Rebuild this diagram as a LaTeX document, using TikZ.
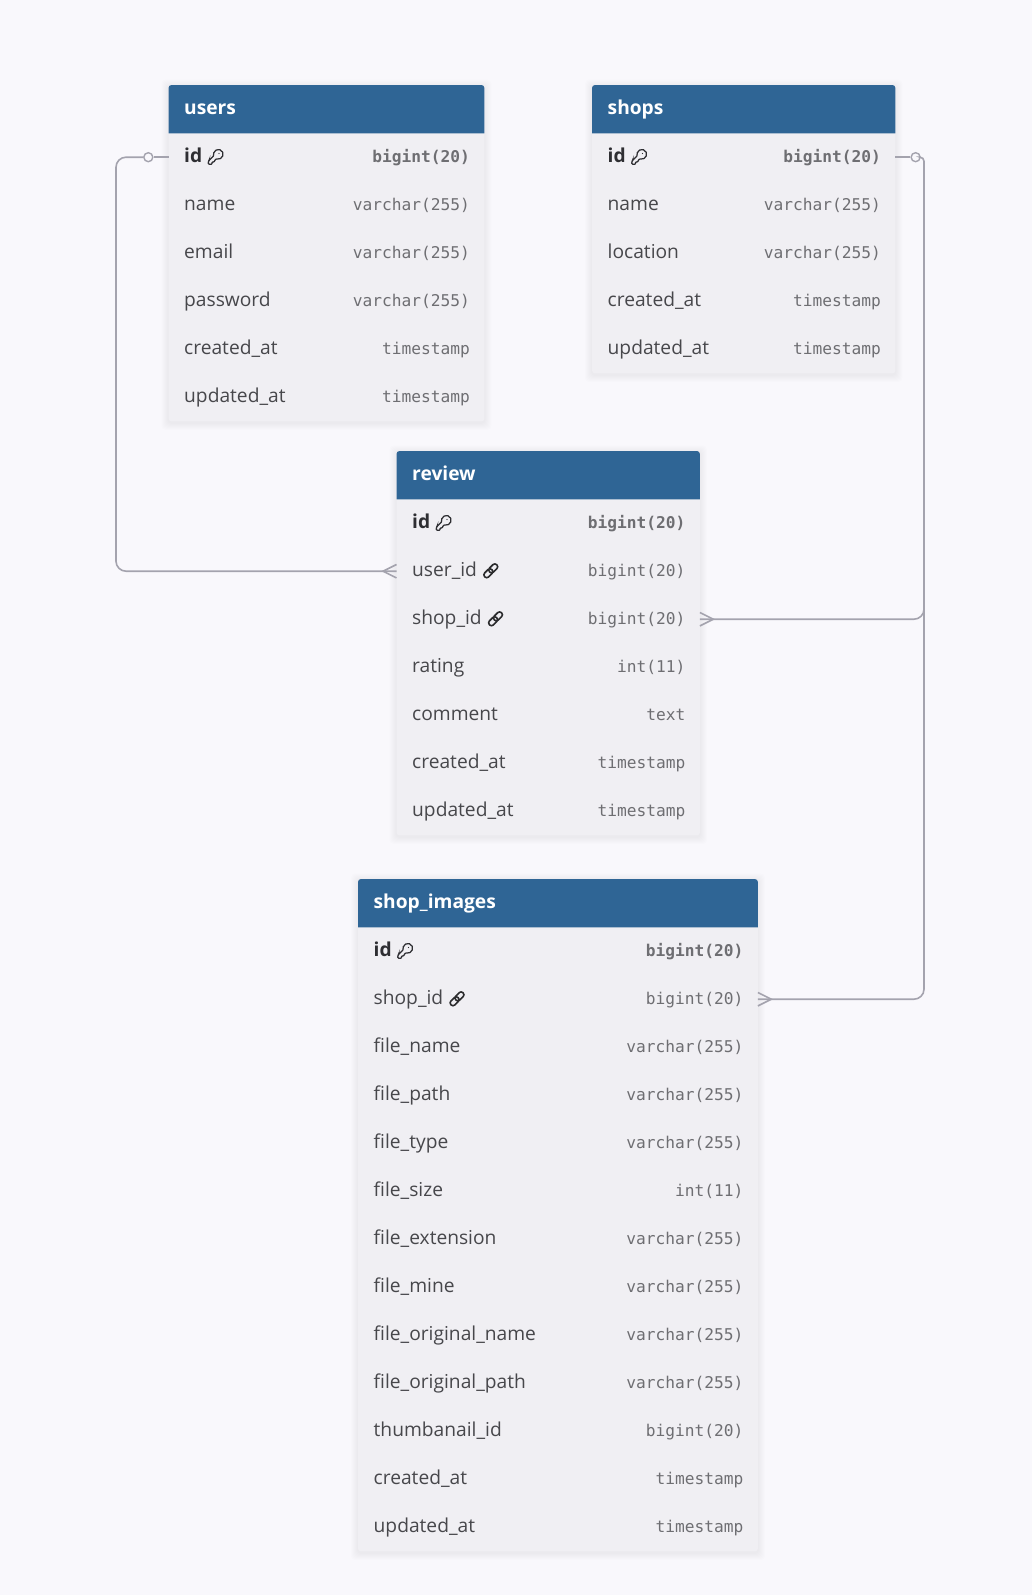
\documentclass[tikz,border=0pt]{standalone}
\usepackage{fontspec}
\setmainfont{Open Sans}
\newfontfamily\typefont{DejaVu Sans Mono}
\usetikzlibrary{positioning,backgrounds}
\definecolor{pagebg}{HTML}{F9F8FC}
\definecolor{bodybg}{HTML}{F0EFF3}
\definecolor{headblue}{HTML}{2F6595}
\definecolor{linegray}{HTML}{A4A3AE}
\definecolor{fieldgray}{HTML}{47474B}
\definecolor{typegray}{HTML}{6E6E72}
\definecolor{iddark}{HTML}{2E2E32}
\newcommand{\keymark}{\hspace{5.5pt}\tikz[x=.74pt, y=.74pt, baseline=3.2pt]{\draw [iddark, line width=1.25pt, rounded corners=.8pt] (2.6,6.6) -- (2,5.2) -- (2,2) -- (7,2) -- (7,5) -- (10,5) -- (11,8) -- (13.4,9.4) arc [start angle=251, end angle=559, radius=6.45] -- cycle; \fill [iddark] (16.5,16.5) circle (.9);}}
\newcommand{\linkmark}{\hspace{5pt}\tikz[x=1pt, y=1pt, baseline=-5.7pt]{\draw [fieldgray!60!black, line width=1.6pt, rotate=45, rounded corners=2.6pt] (-8.5,-2.8) rectangle (1.6,2.8) (-1.6,-2.8) rectangle (8.5,2.8);}}
\newcommand{\idfield}{\color{iddark}\bfseries id\keymark}
\begin{document}
\begin{tikzpicture}[x=1pt, y=1pt, node distance=48pt]
  % Define block styles
  \tikzstyle{head} = [inner xsep=15.5pt, inner ysep=0pt, minimum height=48pt, text height=15.6pt, text depth=5.4pt, text=white, font=\fontsize{19.2}{22}\selectfont\bfseries]
  \tikzstyle{fieldrow} = [inner xsep=15.5pt, inner ysep=0pt, minimum height=48pt, text height=14.6pt, text depth=4pt, text=fieldgray, font=\fontsize{19.2}{22}\selectfont]
  \tikzstyle{line} = [draw=linegray, line width=1.6pt, rounded corners=10pt]
  \tikzstyle{onemark} = [circle, draw=linegray, line width=1.4pt, minimum size=9pt, inner sep=0pt]
  \tikzstyle{foot} = [minimum size=13pt, inner sep=0pt]
  \useasboundingbox (0,0) rectangle (1032,-1595);

  % Place tables
  \node [head, anchor=north west, text width=284.5pt] (users) at (168.5,-85) {users};
  \foreach \row/\field/\kind [remember=\row as \prev (initially )] in {
      1/\idfield/{\bfseries bigint(20)}, 2/name/varchar(255), 3/email/varchar(255),
      4/password/varchar(255), 5/created\_at/timestamp, 6/updated\_at/timestamp}
    \node [fieldrow, text width=284.5pt, below of=users\prev] (users\row) {{\field}\hfill{\color{typegray}\typefont\fontsize{16.2}{20}\selectfont\kind\hspace{-1.2pt}}};

  \node [head, anchor=north west, text width=272pt] (shops) at (592,-85) {shops};
  \foreach \row/\field/\kind [remember=\row as \prev (initially )] in {
      1/\idfield/{\bfseries bigint(20)}, 2/name/varchar(255), 3/location/varchar(255),
      4/created\_at/timestamp, 5/updated\_at/timestamp}
    \node [fieldrow, text width=272pt, below of=shops\prev] (shops\row) {{\field}\hfill{\color{typegray}\typefont\fontsize{16.2}{20}\selectfont\kind\hspace{-1.2pt}}};

  \node [head, anchor=north west, text width=272pt] (review) at (396.5,-451) {review};
  \foreach \row/\field/\kind [remember=\row as \prev (initially )] in {
      1/\idfield/{\bfseries bigint(20)}, 2/user\_id\linkmark/bigint(20), 3/shop\_id\linkmark/bigint(20),
      4/rating/int(11), 5/comment/text, 6/created\_at/timestamp, 7/updated\_at/timestamp}
    \node [fieldrow, text width=272pt, below of=review\prev] (review\row) {{\field}\hfill{\color{typegray}\typefont\fontsize{16.2}{20}\selectfont\kind\hspace{-1.2pt}}};

  \node [head, anchor=north west, text width=368.5pt] (images) at (358,-879) {shop\_images};
  \foreach \row/\field/\kind [remember=\row as \prev (initially )] in {
      1/\idfield/{\bfseries bigint(20)}, 2/shop\_id\linkmark/bigint(20), 3/file\_name/varchar(255),
      4/file\_path/varchar(255), 5/file\_type/varchar(255), 6/file\_size/int(11),
      7/file\_extension/varchar(255), 8/file\_mine/varchar(255), 9/file\_original\_name/varchar(255),
      10/file\_original\_path/varchar(255), 11/thumbanail\_id/bigint(20), 12/created\_at/timestamp,
      13/updated\_at/timestamp}
    \node [fieldrow, text width=368.5pt, below of=images\prev] (images\row) {{\field}\hfill{\color{typegray}\typefont\fontsize{16.2}{20}\selectfont\kind\hspace{-1.2pt}}};

  % Page, shadows and table bodies go behind the text
  \begin{scope}[on background layer]
    \fill [pagebg] (0,0) rectangle (1032,-1595);
    \foreach \tbl/\last in {users/users6, shops/shops5, review/review7, images/images13} {
      \foreach \g in {1,...,7}
        \fill [black, opacity=.008, rounded corners=4pt] ([shift={(-\g pt,\g pt-1.5pt)}]\tbl.north west) rectangle ([shift={(\g pt,-\g pt-1.5pt)}]\last.south east);
      \fill [bodybg, rounded corners=3pt] (\tbl.north west) rectangle (\last.south east);
      \fill [headblue] (\tbl.south west) [rounded corners=3pt] -- (\tbl.north west) -- (\tbl.north east) [sharp corners] -- (\tbl.south east) -- cycle;
    }
  \end{scope}

  % Place connector ends
  \node [onemark, left=15pt of users1] (usersone) {};
  \node [onemark, right=15pt of shops1] (shopsone) {};
  \node [foot, left=0pt of review2] (userfoot) {};
  \node [foot, right=0pt of review3] (shopfoot) {};
  \node [foot, right=0pt of images2] (imagefoot) {};
  \coordinate (leftbus) at (116,-300);
  \coordinate (rightbus) at (924,-400);

  % Draw lines
  \path [line] (users1.west) -- (usersone);
  \path [line] (usersone) -| (leftbus) |- (review2.west);
  \path [line] (shops1.east) -- (shopsone);
  \path [line, rounded corners=4pt] (shopsone) -| (rightbus) [rounded corners=10pt] |- (review3.east);
  \path [line] (rightbus) |- (images2.east);
  \path [line, rounded corners=0pt] (userfoot.north east) -- (userfoot.west) -- (userfoot.south east);
  \path [line, rounded corners=0pt] (shopfoot.north west) -- (shopfoot.east) -- (shopfoot.south west);
  \path [line, rounded corners=0pt] (imagefoot.north west) -- (imagefoot.east) -- (imagefoot.south west);
\end{tikzpicture}
\end{document}
